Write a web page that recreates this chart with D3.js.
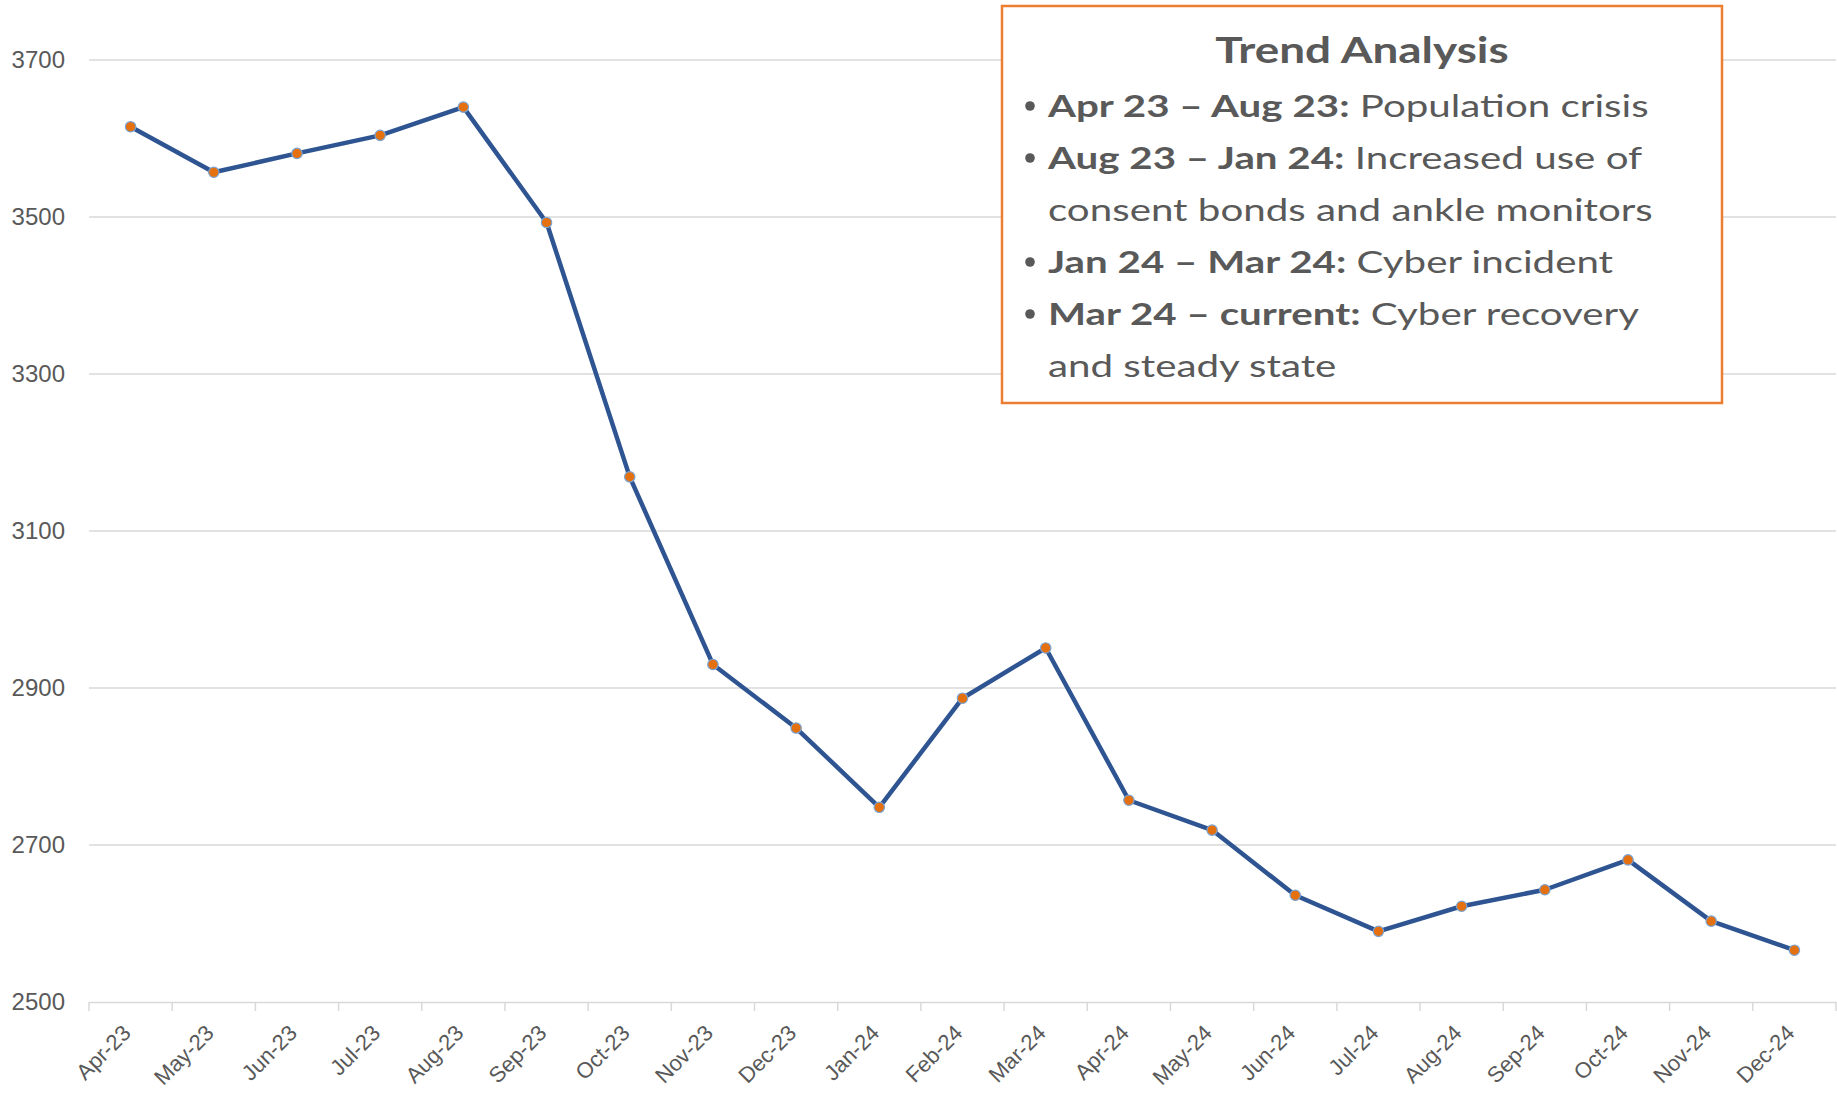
<!DOCTYPE html>
<html>
<head>
<meta charset="utf-8">
<style>
body { margin: 0; background: #ffffff; }
.tick text { font-family: "Liberation Sans", Arial, sans-serif; fill: #595959; }
</style>
<script src="https://d3js.org/d3.v7.min.js"></script>
</head>
<body>
<div id="chart"></div>
<script>

// data
const months = ["Apr-23","May-23","Jun-23","Jul-23","Aug-23","Sep-23","Oct-23","Nov-23","Dec-23",
  "Jan-24","Feb-24","Mar-24","Apr-24","May-24","Jun-24","Jul-24","Aug-24","Sep-24","Oct-24","Nov-24","Dec-24"];
const counts = [3615, 3557, 3581, 3604, 3640, 3493, 3169, 2930, 2849,
  2748, 2887, 2951, 2757, 2719, 2636, 2590, 2622, 2643, 2681, 2603, 2566];
const yTicks = [2500, 2700, 2900, 3100, 3300, 3500, 3700];

// text box lines: [bold part, normal part, has bullet]
const boxTitle = "Trend Analysis";
const boxLines = [
  ["Apr 23 \u2013 Aug 23:", " Population crisis", true],
  ["Aug 23 \u2013 Jan 24:", " Increased use of", true],
  ["", "consent bonds and ankle monitors", false],
  ["Jan 24 \u2013 Mar 24:", " Cyber incident", true],
  ["Mar 24 \u2013 current:", " Cyber recovery", true],
  ["", "and steady state", false]
];

const W = 1837, H = 1094;
const margin = {top: 60, right: 1, bottom: 92, left: 89};
const width = W - margin.left - margin.right,
      height = H - margin.top - margin.bottom;

const svg = d3.select("#chart")
  .append("svg")
    .attr("width", W)
    .attr("height", H)
  .append("g")
    .attr("transform", `translate(${margin.left},${margin.top})`);

const x = d3.scaleBand()
  .domain(months)
  .range([0, width]);

const y = d3.scaleLinear()
  .domain([2500, 3700])
  .range([height, 0]);

// gridlines
svg.append("g")
  .selectAll("line")
  .data(yTicks.filter(d => d !== 2500))
  .join("line")
    .attr("x1", 0)
    .attr("x2", width)
    .attr("y1", d => y(d))
    .attr("y2", d => y(d))
    .attr("stroke", "#d9d9d9")
    .attr("stroke-width", 1.5);

// y axis labels
const yAxis = svg.append("g")
  .call(d3.axisLeft(y).tickValues(yTicks).tickFormat(d3.format("d")).tickSize(0).tickPadding(24));
yAxis.select(".domain").remove();
yAxis.selectAll("text").style("font-size", "24px");

// x axis
const xAxis = svg.append("g")
  .attr("transform", `translate(0,${height})`)
  .call(d3.axisBottom(x).tickSize(0).tickPadding(0));
xAxis.select(".domain").attr("stroke", "#d9d9d9").attr("stroke-width", 1.5);
xAxis.selectAll("text")
  .style("font-size", "22px")
  .style("text-anchor", "end")
  .attr("dy", "0.35em")
  .attr("transform", "translate(-4,27) rotate(-45)");

// tick marks at category boundaries
svg.append("g")
  .selectAll("line")
  .data(months.concat(["end"]))
  .join("line")
    .attr("x1", (d, i) => i * x.step())
    .attr("x2", (d, i) => i * x.step())
    .attr("y1", height)
    .attr("y2", height + 9)
    .attr("stroke", "#d9d9d9")
    .attr("stroke-width", 1.5);

// line
const line = d3.line()
  .x((d, i) => x(months[i]) + x.bandwidth() / 2)
  .y(d => y(d));

svg.append("path")
  .datum(counts)
  .attr("fill", "none")
  .attr("stroke", "#2e5491")
  .attr("stroke-width", 4.5)
  .attr("stroke-linejoin", "round")
  .attr("d", line);

svg.append("g")
  .selectAll("circle")
  .data(counts)
  .join("circle")
    .attr("cx", (d, i) => x(months[i]) + x.bandwidth() / 2)
    .attr("cy", d => y(d))
    .attr("r", 5.2)
    .attr("fill", "#e4700f")
    .attr("stroke", "#7aa3d4")
    .attr("stroke-width", 1.2);

// annotation box
const root = d3.select("#chart svg");
root.append("rect")
  .attr("x", 1002)
  .attr("y", 6)
  .attr("width", 720)
  .attr("height", 397)
  .attr("fill", "#ffffff")
  .attr("stroke", "#ed7d31")
  .attr("stroke-width", 2.5);

// the text in the reference is stretched sideways, so scale it
const titleSx = 1.24, bodySx = 1.30, textX = 1048;

root.append("text")
  .attr("transform", `translate(1362,63) scale(${titleSx},1)`)
  .attr("text-anchor", "middle")
  .style("font-family", "Lato, 'Open Sans', sans-serif")
  .style("font-size", "37px")
  .style("font-weight", "bold")
  .attr("fill", "#595959")
  .text(boxTitle);

boxLines.forEach((l, i) => {
  const yy = 117 + i * 52;
  if (l[2]) {
    root.append("circle")
      .attr("cx", 1030)
      .attr("cy", yy - 11)
      .attr("r", 4.8)
      .attr("fill", "#595959");
  }
  const t = root.append("text")
    .attr("transform", `translate(${textX},${yy}) scale(${bodySx},1)`)
    .style("font-family", "Lato, 'Open Sans', sans-serif")
    .style("font-size", "31px")
    .attr("fill", "#595959");
  if (l[0]) t.append("tspan").style("font-weight", "bold").text(l[0]);
  t.append("tspan").text(l[1]);
});

</script>
</body>
</html>
